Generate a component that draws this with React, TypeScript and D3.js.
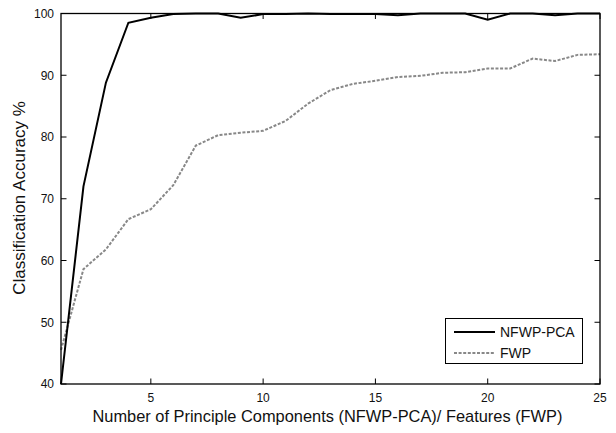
import React from "react";
import * as d3 from "d3";

const components = [1,2,3,4,5,6,7,8,9,10,11,12,13,14,15,16,17,18,19,20,21,22,23,24,25];
const nfwpPca = [40,72,88.8,98.5,99.3,99.9,100,100,99.3,99.9,99.9,100,99.9,99.9,99.9,99.7,100,100,100,99,100,100,99.7,100,100];
const fwp = [45.5,58.6,61.8,66.7,68.3,72.2,78.6,80.3,80.7,81,82.6,85.4,87.6,88.6,89.1,89.7,89.9,90.4,90.5,91.1,91.1,92.7,92.3,93.3,93.4];
const xTicks = [5,10,15,20,25];
const yTicks = [40,50,60,70,80,90,100];
const seriesNames = ["NFWP-PCA","FWP"];

const W = 616, H = 433;
const M = { left: 61, right: 600, top: 13.5, bottom: 384 };
const FONT = "Arial, 'Liberation Sans', sans-serif";

export default function App() {
  const x = d3.scaleLinear().domain([1, 25]).range([M.left, M.right]);
  const y = d3.scaleLinear().domain([40, 100]).range([M.bottom, M.top]);
  const line = d3.line<number>().x((_, i) => x(components[i])).y(d => y(d));
  const tl = 5.5;
  return (
    <svg width={W} height={H} style={{ position: "absolute", left: 0, top: 0 }}>
      <rect x={0} y={0} width={W} height={H} fill="#fff" />
      <path d={line(fwp) || ""} fill="none" stroke="#888" strokeWidth={2} strokeDasharray="3,1.6" />
      <path d={line(nfwpPca) || ""} fill="none" stroke="#000" strokeWidth={2} />
      <rect x={M.left} y={M.top} width={M.right - M.left} height={M.bottom - M.top} fill="none" stroke="#000" strokeWidth={1.3} />
      {xTicks.map(t => (
        <g key={"x" + t}>
          <line x1={x(t)} x2={x(t)} y1={M.bottom} y2={M.bottom - tl} stroke="#000" />
          <line x1={x(t)} x2={x(t)} y1={M.top} y2={M.top + tl} stroke="#000" />
          <text x={x(t)} y={402} fontSize={12} fontFamily={FONT} textAnchor="middle" fill="#111">{t}</text>
        </g>
      ))}
      {yTicks.map(t => (
        <g key={"y" + t}>
          <line x1={M.left} x2={M.left + tl} y1={y(t)} y2={y(t)} stroke="#000" />
          <line x1={M.right} x2={M.right - tl} y1={y(t)} y2={y(t)} stroke="#000" />
          <text x={54} y={y(t) + 4.3} fontSize={12} fontFamily={FONT} textAnchor="end" fill="#111">{t}</text>
        </g>
      ))}
      <text x={327.5} y={422} fontSize={16.4} fontFamily={FONT} textAnchor="middle" fill="#111">
        Number of Principle Components (NFWP-PCA)/ Features (FWP)
      </text>
      <text transform={`translate(25,198) rotate(-90)`} fontSize={17} fontFamily={FONT} textAnchor="middle" fill="#111">
        Classification Accuracy %
      </text>
      <rect x={445.5} y={318.5} width={137} height={45} fill="#fff" stroke="#000" strokeWidth={1} />
      <line x1={454} x2={495} y1={332} y2={332} stroke="#000" strokeWidth={2} />
      <line x1={454} x2={495} y1={353} y2={353} stroke="#888" strokeWidth={2} strokeDasharray="3,1.6" />
      <text x={500} y={337} fontSize={14} fontFamily={FONT} fill="#111">{seriesNames[0]}</text>
      <text x={500} y={358} fontSize={14} fontFamily={FONT} fill="#111">{seriesNames[1]}</text>
    </svg>
  );
}
